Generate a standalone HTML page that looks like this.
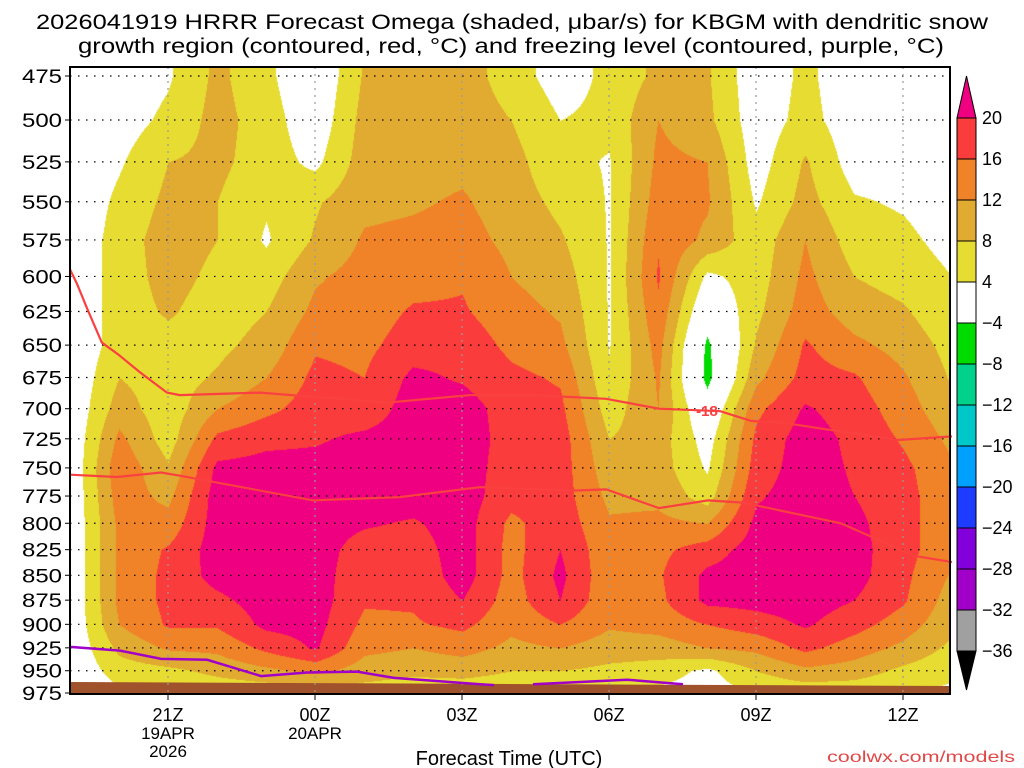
<!DOCTYPE html>
<html><head><meta charset="utf-8"><style>
html,body{margin:0;padding:0;background:#fff;}
#wrap{position:relative;width:1024px;height:768px;overflow:hidden;font-family:"Liberation Sans",sans-serif;}
canvas,svg{position:absolute;left:0;top:0;}
</style></head><body>
<div id="wrap">
<canvas id="cv" width="1024" height="768"></canvas>
<svg id="sv" width="1024" height="768"></svg>
</div>
<script>
// ---- data ----
const levels = [475,500,525,550,575,600,625,650,675,700,725,750,775,800,825,850,875,900,925,950,975];
const hours = [0,1,2,3,4,5,6,7,8,9,10,11,12,13,14,15,16,17,18]; // hours after 19Z
const timeTickLabels = ["21Z","00Z","03Z","06Z","09Z","12Z"];
const timeTickHours = [2,5,8,11,14,17];
const dateLabels = [["19APR","2026"],["20APR"]];
const cbarLevels = [20,16,12,8,4,-4,-8,-12,-16,-20,-24,-28,-32,-36];
// omega per column (hour), listed top (475) to bottom (975)
const omega = [
[0.3,0.3,0.3,0.3,0.3,0.3,0.3,0.3,0.3,0.3,0.3,0.3,0.3,0.3,0.3,0.3,0.3,0.3,0.3,0.3,0.3],
[1,2,3.5,5,6,6,6,6,8,10,13,15,14,13,13,13,13,12,9,6,3],
[3.5,5,8,9,10,9.5,8.5,6.5,6,5.5,6,8.5,11,13.5,16.5,17,17,16.5,12.5,7,4],
[9,9.5,9,8,8,7,6,7,8.5,12,17,21,22,22,22,21.5,19,16.5,13,9,5],
[5,6,6,4.5,3.5,6,8,9.5,12,15,19,21.5,23,23,23,23,22,21,17,11,5],
[0,1,3,7.5,8.5,11.5,13,15.5,17,18,19.5,21.5,22,22,22,22,22,21.5,20.5,13,6],
[8.5,9.5,10,11,12.5,13.5,14,15,16,17.5,21,22,22,20.5,18,17,16.5,15,13,10,6],
[9.5,10,10.5,11.5,13,14.5,16.5,18,21,22,22,22,22,19.5,18,17,16.5,15.5,12,9,5],
[10,10.5,11,12.5,13.5,15.5,16.5,18.5,19.5,22,22,22,22,22,22,22,20,17,13.5,9.5,5],
[6,8,9.5,10,11,12,13.5,15,17,18,18.5,18,17.5,15,14.5,14.5,14,13,11,8,5],
[2,4,5,7,8.5,10,11.5,13,15.5,17,18,18,18,18.5,20,21,20,16,12,8,5],
[5,5,3.7,3.7,3.7,3.7,3.7,3.8,4.5,6,8,9.5,11,12.5,13,13,13,12.5,10,7,4.5],
[9,12,13,14,15.5,16.5,15,13.5,12.5,12,10,10,11,13,15,15.5,15,13.5,10,6,3],
[8.5,9,12,12.5,11,3,-1,-5,-5.5,-1,2,3.5,6,12,18,21,21,16,12,3,2],
[1,1.5,2,3.5,5.5,6,7,8.5,11,15,17,18,19.5,21,22,22,21.5,18,13,8,4],
[5,5.5,8.5,9.5,12,13,14,16.5,17.5,20.5,22,22,22,22,22,22,22,20.5,17,11,5],
[1,1.5,2,4.5,6,8,10,13,16.5,18,19,19.5,20,21,21.5,21.5,20,17.5,14,10,5],
[1,1,1.5,3.5,5,6.5,8.5,10.5,12.5,14,15.5,17,17.5,17.5,17.5,17,16.5,14,11,7,4],
[0,0,0.5,1.5,2.5,4,5,6.5,7.5,9,11,12.5,13,13,13,11.5,10,9,7,5,3]
];
// isotherm pressures (hPa) vs hour
const isoM18Hours = [0,0.14,0.35,0.65,0.98,1.43,1.98,2.24,3.88,6.47,8.16,9.45,10.94,12.02,13.27,13.9,14.63,15.43,16.9,18];
const isoM18Press = [595,605,623,648,657,671,687,689,687,695,689,689,692,700,702,710,712,717,726,723];
const isoM12Hours = [0,0.96,1.86,2.27,4.96,6.73,8.37,10.31,10.94,12.02,13.02,13.73,15.73,17.24,18];
const isoM12Press = [756,758,754,757,779,776,767,770,769,786,779,781,800,831,837];
const frzHours = [0,1.02,1.86,2.8,3.9,4.84,5.86,6.61,8.37,8.65];
const frzPress = [924,928,937,938,956,952,951,958,965,966];
const frz2Hours = [9.45,11.37,12.51];
const frz2Press = [965,960,965];

// ---- axes ----
const X0=70, X1=950, Y0=67, Y1=694, HX=49;
const xOf = h => X0 + h*HX;
const yOf = p => 76 + 858*Math.log(p/475);
const colors = {mag:[238,0,128],red:[250,60,60],ora:[240,130,40],tan:[225,170,48],yel:[230,220,50],wht:[255,255,255],grn:[0,220,0],teal:[0,210,140],cyan:[0,200,200],sky:[0,160,255],blue:[30,60,255],vio:[130,0,220],pur:[160,0,200],gry:[160,160,160],blk:[0,0,0]};
function colorFor(v){
  if(v>=20) return colors.mag; if(v>=16) return colors.red; if(v>=12) return colors.ora;
  if(v>=8) return colors.tan; if(v>=4) return colors.yel; if(v>-4) return colors.wht;
  if(v>-8) return colors.grn; if(v>-12) return colors.teal; if(v>-16) return colors.cyan;
  if(v>-20) return colors.sky; if(v>-24) return colors.blue; if(v>-28) return colors.vio;
  if(v>-32) return colors.pur; if(v>-36) return colors.gry; return colors.blk;
}
function sample(h,p){
  let c=Math.max(0,Math.min(hours.length-1.0001,h));
  let i=Math.floor(c), tx=c-i;
  let r; if(p<=levels[0]) r=0; else if(p>=levels[levels.length-1]) r=levels.length-1.0001;
  else { let k=0; while(levels[k+1]<p) k++; r=k+(p-levels[k])/(levels[k+1]-levels[k]); }
  let j=Math.floor(r), ty=r-j;
  const a=omega[i][j], b=omega[i+1][j], cc=omega[i][j+1], d=omega[i+1][j+1];
  return (a*(1-tx)+b*tx)*(1-ty)+(cc*(1-tx)+d*tx)*ty;
}
const cv=document.getElementById('cv'), ctx=cv.getContext('2d');
const img=ctx.createImageData(X1-X0, Y1-Y0);
for(let y=Y0;y<Y1;y++){
  const p=475*Math.exp((y-76)/858);
  for(let x=X0;x<X1;x++){
    const col=colorFor(sample((x-X0)/HX,p));
    const o=((y-Y0)*(X1-X0)+(x-X0))*4;
    img.data[o]=col[0];img.data[o+1]=col[1];img.data[o+2]=col[2];img.data[o+3]=255;
  }
}
ctx.putImageData(img,X0,Y0);

// ---- svg overlay ----
const NS='http://www.w3.org/2000/svg', sv=document.getElementById('sv');
function mk(tag,attrs,parent){const e=document.createElementNS(NS,tag);for(const k in attrs)e.setAttribute(k,attrs[k]);(parent||sv).appendChild(e);return e;}

// ground
const ground=mk('polygon',{points:`${X0},682 ${X1},686 ${X1},694 ${X0},694`,fill:'#a0522d'});



// horizontal gridlines + y labels
levels.forEach(p=>{
  const y=yOf(p);
  if(p<975){
    const g=mk('line',{x1:X0,x2:X1,y1:y,y2:y,stroke:'#000','stroke-width':1.2,'stroke-dasharray':'1.5 6.5'});
    
    
  }
  const tk=mk('line',{x1:X0-5,x2:X0,y1:Math.min(y,693),y2:Math.min(y,693),stroke:'#000'});
  
  
  const t=mk('text',{x:62,y:Math.min(y,693)+7,'text-anchor':'end','font-size':19,textLength:40,lengthAdjust:'spacingAndGlyphs',fill:'#000'});
  t.textContent=p;
  
  
});
// vertical gridlines + x labels
timeTickHours.forEach((h,i)=>{
  const x=xOf(h);
  const g=mk('line',{x1:x,x2:x,y1:Y0,y2:Y1,stroke:'#999','stroke-width':1.2,'stroke-dasharray':'2 5'});
  
  
  const tk=mk('line',{x1:x,x2:x,y1:Y1,y2:Y1+6,stroke:'#000'});
  
  
  const t=mk('text',{x:x,y:721,'text-anchor':'middle','font-size':18,fill:'#000'});
  t.textContent=timeTickLabels[i];
  
  
  if(i<dateLabels.length){
    dateLabels[i].forEach((s,k)=>{
      const d=mk('text',{x:x,y:739+k*18,'text-anchor':'middle','font-size':17,fill:'#000'});
      d.textContent=s;
      
      
    });
  }
});
// contour lines
function linePath(hs,ps){return hs.map((h,i)=>(i?'L':'M')+xOf(h).toFixed(1)+','+yOf(ps[i]).toFixed(1)).join(' ');}
const l18=mk('path',{d:linePath(isoM18Hours,isoM18Press),fill:'none',stroke:'#fa4040','stroke-width':2.2});


const l12=mk('path',{d:linePath(isoM12Hours,isoM12Press),fill:'none',stroke:'#fa4040','stroke-width':2.2});


const lab=mk('text',{x:xOf(13.0),y:yOf(701)+6,'font-size':15,'font-weight':'bold',fill:'#fa4040','text-anchor':'middle'});
lab.textContent='-18';


const f1=mk('path',{d:linePath(frzHours,frzPress),fill:'none',stroke:'#a000c8','stroke-width':2.5});


const f2=mk('path',{d:linePath(frz2Hours,frz2Press),fill:'none',stroke:'#a000c8','stroke-width':2.5});


// frame
const fr=mk('rect',{x:X0,y:Y0,width:X1-X0,height:Y1-Y0,fill:'none',stroke:'#000','stroke-width':2});



// colorbar
const CB={x:957,w:19,top:118,step:41};
const cbCols=[colors.red,colors.ora,colors.tan,colors.yel,colors.wht,colors.grn,colors.teal,colors.cyan,colors.sky,colors.blue,colors.vio,colors.pur,colors.gry];
cbCols.forEach((c,i)=>{
  const r=mk('rect',{x:CB.x,y:CB.top+i*CB.step,width:CB.w,height:CB.step,fill:`rgb(${c})`,stroke:'#000','stroke-width':1});
  
  
});
const tUp=mk('polygon',{points:`${CB.x},${CB.top} ${CB.x+CB.w},${CB.top} ${CB.x+CB.w/2},76`,fill:'rgb(238,0,128)',stroke:'#000'});


const bot=CB.top+cbCols.length*CB.step;
const tDn=mk('polygon',{points:`${CB.x},${bot} ${CB.x+CB.w},${bot} ${CB.x+CB.w/2},690`,fill:'#000',stroke:'#000'});


cbarLevels.forEach((v,i)=>{
  const t=mk('text',{x:982,y:CB.top+i*CB.step+6,'font-size':18,fill:'#000'});
  t.textContent=v<0?'\u2212'+(-v):String(v);
  
  
});

// titles
const t1=mk('text',{x:36,y:29,'font-size':21,textLength:952,lengthAdjust:'spacingAndGlyphs',fill:'#000'});
t1.textContent='2026041919 HRRR Forecast Omega (shaded, \u03bcbar/s) for KBGM with dendritic snow';


const t2=mk('text',{x:78,y:53,'font-size':21,textLength:866,lengthAdjust:'spacingAndGlyphs',fill:'#000'});
t2.textContent='growth region (contoured, red, \u00b0C) and freezing level (contoured, purple, \u00b0C)';


const xt=mk('text',{x:509,y:765,'text-anchor':'middle','font-size':20,fill:'#000'});
xt.textContent='Forecast Time (UTC)';


const wm=mk('text',{x:1015,y:762,'text-anchor':'end','font-size':16,fill:'#e04848',textLength:188,lengthAdjust:'spacingAndGlyphs'});
wm.textContent='coolwx.com/models';


</script>
</body></html>
